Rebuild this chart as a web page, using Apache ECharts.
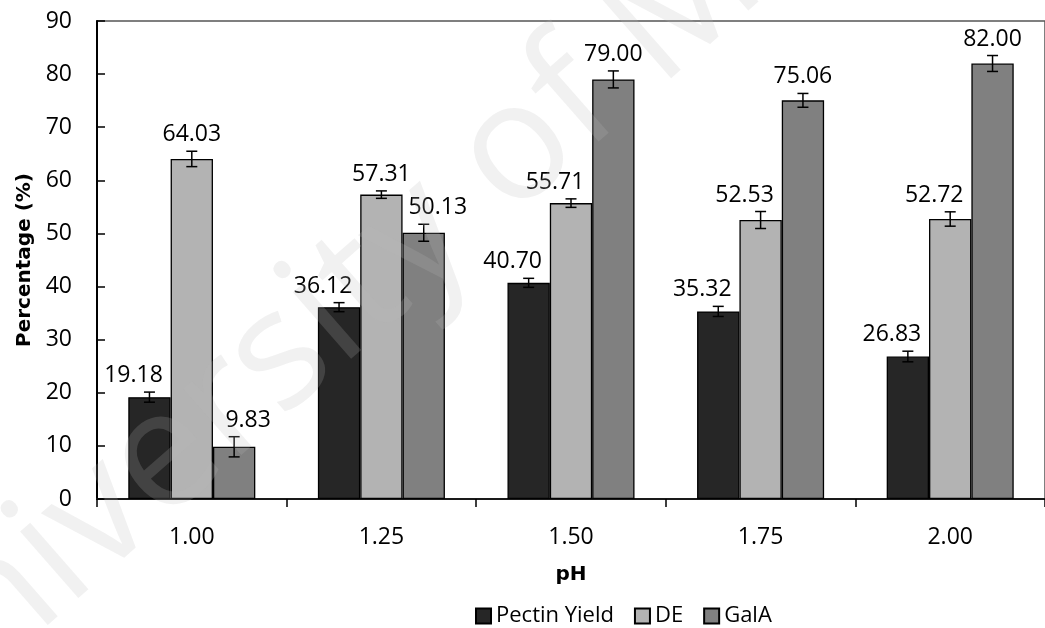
<!DOCTYPE html>
<html>
<head>
<meta charset="utf-8">
<script src="https://cdn.jsdelivr.net/npm/echarts@6/dist/echarts.min.js"></script>
<style>
  html, body { margin: 0; padding: 0; background: #fff; }
  #chart { width: 1045px; height: 628px; }
</style>
</head>
<body>
<div id="chart"></div>
<script>
const categories = ['1.00', '1.25', '1.50', '1.75', '2.00'];
const seriesNames = ['Pectin Yield', 'DE', 'GalA'];
const pectinYield = [19.18, 36.12, 40.70, 35.32, 26.83];
const pectinErr = [0.95, 0.85, 0.85, 0.95, 1.0];
const deValues = [64.03, 57.31, 55.71, 52.53, 52.72];
const deErr = [1.45, 0.7, 0.8, 1.6, 1.35];
const galaValues = [9.83, 50.13, 79.00, 75.06, 82.00];
const galaErr = [1.9, 1.6, 1.6, 1.3, 1.5];
const yTicks = [0, 10, 20, 30, 40, 50, 60, 70, 80, 90];

const colors = ['#262626', '#b3b3b3', '#808080'];
const allValues = [pectinYield, deValues, galaValues];
const allErr = [pectinErr, deErr, galaErr];
const FONT = '"Open Sans", "Noto Sans", sans-serif';
const TITLE_FONT = '"DejaVu Sans", sans-serif';
const CAT_GAP = 0.33;

const chart = echarts.init(document.getElementById('chart'));

// error bars + value labels, placed from the bar scale
function renderErr(params, api) {
  const j = api.value(0);
  const s = api.value(1);
  const v = api.value(2);
  const e = api.value(3);
  const catW = api.size([1, 0])[0];
  const bw = catW * (1 - CAT_GAP) / 3;
  const cx = api.coord([j, 0])[0] + (s - 1) * bw;
  const yHi = api.coord([j, v + e])[1];
  const yLo = api.coord([j, v - e])[1];
  const cap = 5.5;

  // nudge label sideways when a neighbouring bar is taller
  const top = v + e;
  const leftTaller = s > 0 && allValues[s - 1][j] + allErr[s - 1][j] > top + 3;
  const rightTaller = s < 2 && allValues[s + 1][j] + allErr[s + 1][j] > top + 3;
  let dx = 0;
  if (rightTaller && !leftTaller) dx = -16;
  if (leftTaller && !rightTaller) dx = 14;

  const ls = { stroke: '#000', lineWidth: 1.5 };
  return {
    type: 'group',
    children: [
      { type: 'line', shape: { x1: cx, y1: yHi, x2: cx, y2: yLo }, style: ls },
      { type: 'line', shape: { x1: cx - cap, y1: yHi, x2: cx + cap, y2: yHi }, style: ls },
      { type: 'line', shape: { x1: cx - cap, y1: yLo, x2: cx + cap, y2: yLo }, style: ls },
      {
        type: 'text',
        x: cx + dx,
        y: yHi - 5,
        style: {
          text: v.toFixed(2),
          fill: '#000',
          font: '23px ' + FONT,
          align: 'center',
          verticalAlign: 'bottom'
        }
      }
    ]
  };
}

const errData = [];
allValues.forEach((vals, s) => {
  vals.forEach((v, j) => errData.push([j, s, v, allErr[s][j]]));
});

const option = {
  animation: false,
  textStyle: { fontFamily: FONT },
  grid: {
    left: 97,
    top: 21,
    width: 952,
    height: 478,
    show: true,
    borderColor: '#555',
    borderWidth: 1.5
  },
  legend: {
    data: seriesNames,
    left: 470,
    top: 600,
    icon: 'rect',
    itemWidth: 15,
    itemHeight: 15,
    itemGap: 20,
    textStyle: { fontSize: 22, color: '#000', fontFamily: FONT }
  },
  xAxis: {
    type: 'category',
    data: categories,
    name: 'pH',
    nameLocation: 'middle',
    nameGap: 66,
    nameTextStyle: { fontSize: 20, fontWeight: 'bold', color: '#000', fontFamily: TITLE_FONT },
    axisLine: { lineStyle: { color: '#1a1a1a', width: 2 } },
    axisTick: { show: true, length: 8, lineStyle: { color: '#000', width: 1.5 } },
    axisLabel: { fontSize: 23, color: '#000', margin: 27 }
  },
  yAxis: {
    type: 'value',
    min: yTicks[0],
    max: yTicks[yTicks.length - 1],
    interval: 10,
    name: 'Percentage (%)',
    nameLocation: 'middle',
    nameGap: 60,
    nameTextStyle: { fontSize: 20, fontWeight: 'bold', color: '#000', fontFamily: TITLE_FONT },
    axisLine: { show: true, lineStyle: { color: '#000', width: 2 } },
    axisTick: { show: true, inside: true, length: 8, lineStyle: { color: '#000', width: 1.5 } },
    axisLabel: { fontSize: 23, color: '#000', margin: 25 },
    splitLine: { show: false }
  },
  series: [
    ...allValues.map((vals, s) => ({
      name: seriesNames[s],
      type: 'bar',
      data: vals,
      barGap: '0%',
      barCategoryGap: (CAT_GAP * 100) + '%',
      itemStyle: { color: colors[s], borderColor: '#000', borderWidth: 1.3 }
    })),
    {
      type: 'custom',
      renderItem: renderErr,
      data: errData,
      encode: { x: 0, y: 2 },
      z: 5,
      silent: true
    }
  ],
  graphic: [
    {
      type: 'text',
      x: 455,
      y: 205,
      rotation: 0.72,
      silent: true,
      z: 100,
      style: {
        text: 'University of Malaya',
        font: '165px ' + FONT,
        fill: 'rgba(185,185,185,0.2)',
        align: 'center',
        verticalAlign: 'middle'
      }
    }
  ]
};

chart.setOption(option);
window.addEventListener('resize', () => chart.resize());
</script>
</body>
</html>
